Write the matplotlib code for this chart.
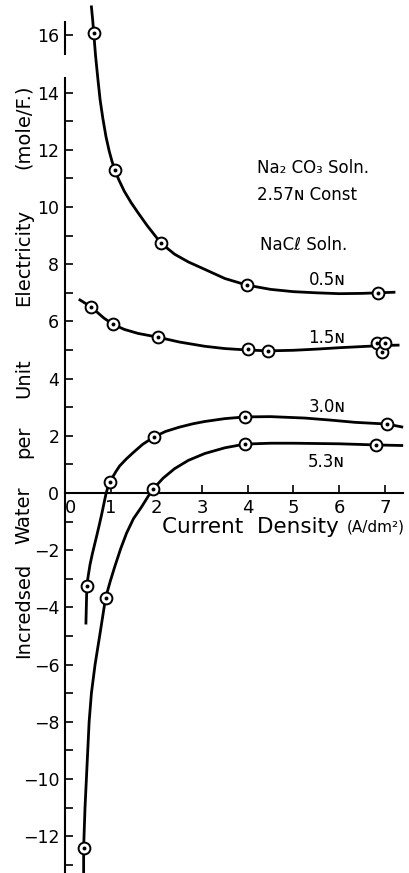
import matplotlib.pyplot as plt

# circles (measured points) for each NaCl concentration
pts_05_x = [0.63, 1.09, 2.10, 3.98, 6.85]
pts_05_y = [16.1, 11.3, 8.74, 7.27, 7.0]
pts_15_x = [0.57, 1.05, 2.03, 4.00, 4.44, 6.83, 6.94, 7.00]
pts_15_y = [6.5, 5.9, 5.45, 5.03, 4.96, 5.24, 4.93, 5.24]
pts_30_x = [0.48, 0.98, 1.95, 3.94, 7.05]
pts_30_y = [-3.25, 0.38, 1.96, 2.66, 2.41]
pts_53_x = [0.41, 0.89, 1.93, 3.94, 6.80]
pts_53_y = [-12.4, -3.67, 0.14, 1.71, 1.68]

# the hand drawn curves
curve_05_x = [0.58, 0.61, 0.63, 0.67, 0.72, 0.77, 0.83, 0.90, 0.97, 1.03, 1.09,
              1.18, 1.30, 1.45, 1.60, 1.80, 2.10, 2.40, 2.70, 3.06, 3.50, 3.98,
              4.5, 5.0, 5.5, 6.0, 6.5, 6.85, 7.2]
curve_05_y = [17.0, 16.5, 16.1, 15.3, 14.5, 13.75, 13.1, 12.45, 11.95, 11.6, 11.3,
              10.95, 10.55, 10.15, 9.8, 9.35, 8.74, 8.35, 8.08, 7.82, 7.5, 7.27,
              7.12, 7.04, 7.0, 6.97, 6.98, 7.0, 7.02]
curve_15_x = [0.33, 0.45, 0.57, 0.7, 0.85, 1.05, 1.3, 1.6, 2.03, 2.5, 3.06,
              3.5, 4.0, 4.44, 5.0, 5.5, 6.0, 6.5, 7.0, 7.29]
curve_15_y = [6.75, 6.63, 6.5, 6.33, 6.12, 5.9, 5.72, 5.58, 5.45, 5.28, 5.13,
              5.05, 5.0, 4.97, 4.99, 5.03, 5.08, 5.12, 5.16, 5.17]
curve_30_x = [0.46, 0.47, 0.48, 0.51, 0.55, 0.60, 0.65, 0.70, 0.75, 0.80, 0.85,
              0.90, 0.94, 0.98, 1.05, 1.12, 1.20, 1.35, 1.50, 1.70, 1.95, 2.20,
              2.50, 2.80, 3.06, 3.50, 3.94, 4.5, 5.25, 5.8, 6.35, 7.05, 7.37]
curve_30_y = [-4.55, -3.9, -3.25, -2.9, -2.5, -2.13, -1.8, -1.47, -1.13, -0.78, -0.4,
              -0.02, 0.2, 0.38, 0.57, 0.76, 0.95, 1.2, 1.42, 1.7, 1.96, 2.15,
              2.3, 2.42, 2.5, 2.6, 2.66, 2.67, 2.62, 2.55, 2.47, 2.41, 2.31]
curve_53_x = [0.41, 0.41, 0.44, 0.47, 0.50, 0.53, 0.58, 0.66, 0.77, 0.89, 0.99,
              1.09, 1.22, 1.35, 1.50, 1.68, 1.82, 1.93, 2.15, 2.4, 2.7, 3.06,
              3.5, 3.94, 4.5, 5.0, 6.0, 6.8, 7.37]
curve_53_y = [-13.4, -12.4, -11.0, -10.0, -9.0, -8.0, -7.0, -6.0, -4.9, -3.67, -3.1,
              -2.58, -1.95, -1.4, -0.9, -0.48, -0.12, 0.14, 0.52, 0.85, 1.14, 1.38,
              1.58, 1.71, 1.74, 1.74, 1.72, 1.68, 1.66]

series_labels = ["0.5ɴ", "1.5ɴ", "3.0ɴ", "5.3ɴ"]
label_x = [5.73, 5.73, 5.73, 5.71]
label_y = [7.45, 5.42, 3.0, 1.08]

ylabel_words = ["Incredsed", "Water", "per", "Unit", "Electricity", "(mole/F.)"]
ylabel_pos = [-4.09, -0.77, 1.78, 4.02, 8.25, 12.8]

x_ticks = [0, 1, 2, 3, 4, 5, 6, 7]
y_ticks = [-12, -10, -8, -6, -4, -2, 0, 2, 4, 6, 8, 10, 12, 14, 16]
y_minor = [-13, -11, -9, -7, -5, -3, -1, 1, 3, 5, 7, 9, 11, 13]

fig = plt.figure(figsize=(4.1, 8.73), dpi=100)
ax = fig.add_axes([0, 0, 1, 1])
ax.set_xlim(-1.42, 7.55)
ax.set_ylim(-13.29, 17.24)

curves = [(curve_05_x, curve_05_y), (curve_15_x, curve_15_y),
          (curve_30_x, curve_30_y), (curve_53_x, curve_53_y)]
points = [(pts_05_x, pts_05_y), (pts_15_x, pts_15_y),
          (pts_30_x, pts_30_y), (pts_53_x, pts_53_y)]

for (cx, cy), (px, py) in zip(curves, points):
    ax.plot(cx, cy, "-", color="black", lw=2.0, solid_joinstyle="round", zorder=2)
    ax.plot(px, py, "o", ms=8.5, mfc="white", mec="black", mew=1.4, zorder=3)
    ax.plot(px, py, "o", ms=1.8, color="black", zorder=4)

for lab, lx, ly in zip(series_labels, label_x, label_y):
    ax.text(lx, ly, lab, fontsize=12, ha="center", va="center")

# axes: x axis through zero, y axis broken between 14 and 16
for side in ["top", "right"]:
    ax.spines[side].set_visible(False)
ax.spines["bottom"].set_position(("data", 0))
ax.spines["bottom"].set_bounds(0, 7.4)
ax.spines["left"].set_position(("data", 0))
ax.spines["left"].set_bounds(-13.29, 14.5)
ax.spines["bottom"].set_linewidth(1.5)
ax.spines["left"].set_linewidth(1.5)
ax.vlines(0, 15.3, 16.5, color="black", lw=1.5)

ax.set_xticks(x_ticks)
ax.set_yticks(y_ticks)
ax.set_yticks(y_minor, minor=True)
ax.tick_params(axis="x", direction="in", length=6, width=1.2, labelsize=13, pad=4)
ax.tick_params(axis="y", which="both", direction="in", length=6, width=1.2,
               labelsize=12.5, pad=4)
ax.get_xticklabels()[0].set_horizontalalignment("left")

ax.text(2.12, -1.19, "Current  Density", fontsize=15.5, ha="left", va="center")
ax.text(6.17, -1.19, "(A/dm²)", fontsize=11, ha="left", va="center")
for word, wy in zip(ylabel_words, ylabel_pos):
    ax.text(-0.9, wy, word, fontsize=14, rotation=90, ha="center", va="center")

ax.text(4.2, 11.36, "Na₂ CO₃ Soln.", fontsize=12, ha="left", va="center")
ax.text(4.2, 10.42, "2.57ɴ Const", fontsize=12, ha="left", va="center")
ax.text(4.27, 8.67, "NaCℓ Soln.", fontsize=12, ha="left", va="center")

fig.savefig("out.png", dpi=100)
